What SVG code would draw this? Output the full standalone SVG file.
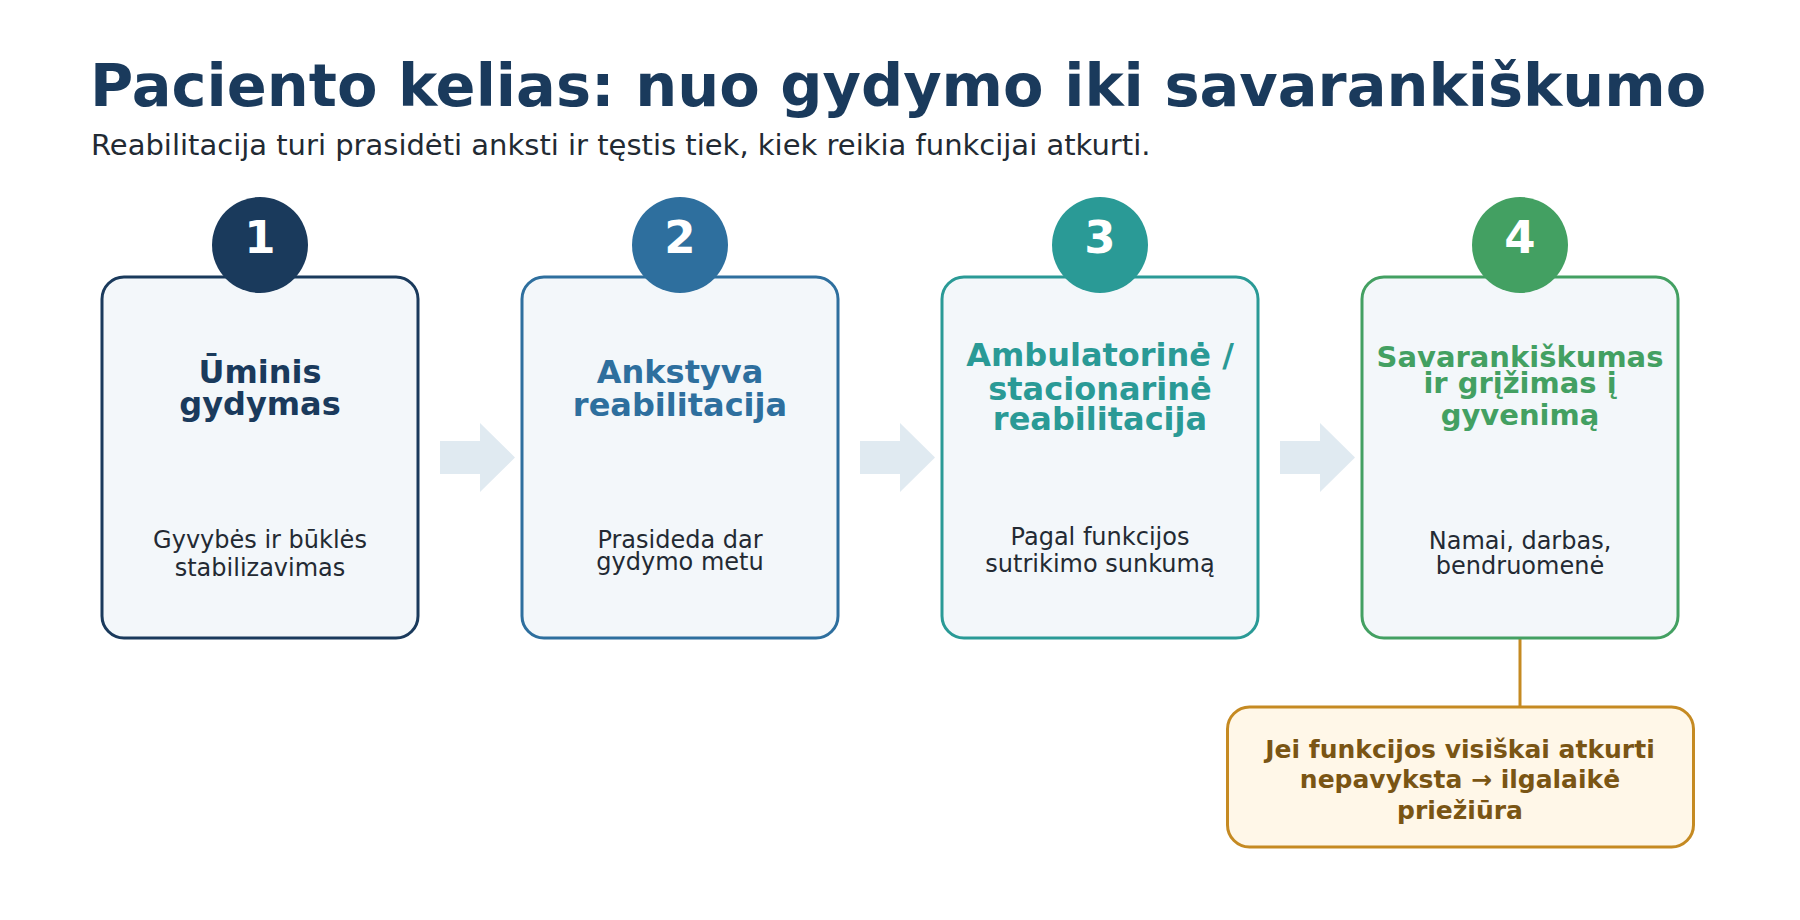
<svg xmlns="http://www.w3.org/2000/svg" width="1800" height="920" viewBox="0 0 1800 920">
  <style>
    text { font-family: "DejaVu Sans", Verdana, sans-serif; }
    .title { font-size: 59px; font-weight: bold; fill: #1a3a5c; }
    .subtitle { font-size: 29px; fill: #222a33; }
    .box { fill: #f3f7fa; stroke-width: 3; }
    .num { font-size: 45px; font-weight: bold; fill: #ffffff; text-anchor: middle; }
    .head { font-size: 32px; font-weight: bold; text-anchor: middle; }
    .desc { font-size: 24px; fill: #232a33; text-anchor: middle; }
    .arrow { fill: #e0eaf1; }
    .callout { fill: #fff7e8; stroke: #c58a22; stroke-width: 3; }
    .ctext { font-size: 25px; font-weight: bold; fill: #7a5514; text-anchor: middle; }
  </style>
  <rect width="1800" height="920" fill="#ffffff"/>
  <text class="title" x="90" y="106">Paciento kelias: nuo gydymo iki savarankiškumo</text>
  <text class="subtitle" x="91" y="155">Reabilitacija turi prasidėti anksti ir tęstis tiek, kiek reikia funkcijai atkurti.</text>

  <g id="connectors">
    <polygon class="arrow" points="440,441 480,441 480,423 515,457.5 480,492 480,474 440,474"/>
    <polygon class="arrow" points="860,441 900,441 900,423 935,457.5 900,492 900,474 860,474"/>
    <polygon class="arrow" points="1280,441 1320,441 1320,423 1355,457.5 1320,492 1320,474 1280,474"/>
    <line x1="1520" y1="639" x2="1520" y2="707" stroke="#c58a22" stroke-width="3"/>
  </g>

  <g id="step1">
    <rect class="box" x="102" y="277" width="316" height="361" rx="22" stroke="#1a3a5c"/>
    <circle cx="260" cy="245" r="48" fill="#1a3a5c"/>
    <text class="num" x="260" y="253">1</text>
    <text class="head" fill="#1a3a5c"><tspan x="260" y="383">Ūminis</tspan><tspan x="260" y="415">gydymas</tspan></text>
    <text class="desc"><tspan x="260" y="548">Gyvybės ir būklės</tspan><tspan x="260" y="576">stabilizavimas</tspan></text>
  </g>

  <g id="step2">
    <rect class="box" x="522" y="277" width="316" height="361" rx="22" stroke="#2e6f9e"/>
    <circle cx="680" cy="245" r="48" fill="#2e6f9e"/>
    <text class="num" x="680" y="253">2</text>
    <text class="head" fill="#2e6f9e"><tspan x="680" y="383">Ankstyva</tspan><tspan x="680" y="416">reabilitacija</tspan></text>
    <text class="desc"><tspan x="680" y="548">Prasideda dar</tspan><tspan x="680" y="570">gydymo metu</tspan></text>
  </g>

  <g id="step3">
    <rect class="box" x="942" y="277" width="316" height="361" rx="22" stroke="#2a9a96"/>
    <circle cx="1100" cy="245" r="48" fill="#2a9a96"/>
    <text class="num" x="1100" y="253">3</text>
    <text class="head" fill="#2a9a96"><tspan x="1100" y="366">Ambulatorinė /</tspan><tspan x="1100" y="400">stacionarinė</tspan><tspan x="1100" y="430">reabilitacija</tspan></text>
    <text class="desc"><tspan x="1100" y="545">Pagal funkcijos</tspan><tspan x="1100" y="572">sutrikimo sunkumą</tspan></text>
  </g>

  <g id="step4">
    <rect class="box" x="1362" y="277" width="316" height="361" rx="22" stroke="#43a062"/>
    <circle cx="1520" cy="245" r="48" fill="#43a062"/>
    <text class="num" x="1520" y="253">4</text>
    <text class="head" fill="#43a062" style="font-size:29px"><tspan x="1520" y="367">Savarankiškumas</tspan><tspan x="1520" y="393">ir grįžimas į</tspan><tspan x="1520" y="425">gyvenimą</tspan></text>
    <text class="desc"><tspan x="1520" y="549">Namai, darbas,</tspan><tspan x="1520" y="574">bendruomenė</tspan></text>
  </g>

  <g id="callout">
    <rect class="callout" x="1227.5" y="707" width="466" height="140" rx="22"/>
    <text class="ctext"><tspan x="1460" y="758">Jei funkcijos visiškai atkurti</tspan><tspan x="1460" y="788">nepavyksta → ilgalaikė</tspan><tspan x="1460" y="819">priežiūra</tspan></text>
  </g>
</svg>
